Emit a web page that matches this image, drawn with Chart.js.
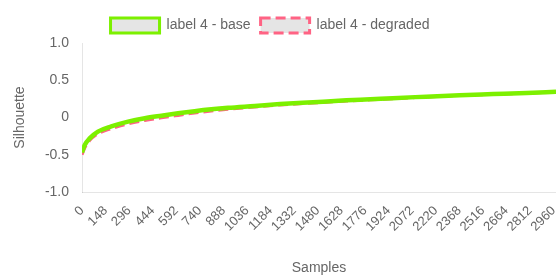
<!DOCTYPE html>
<html>
<head>
<meta charset="utf-8">
<script src="https://cdn.jsdelivr.net/npm/chart.js@4/dist/chart.umd.min.js"></script>
<style>
  html, body { margin: 0; padding: 0; background: #fff; }
  #wrap { width: 556px; height: 280px; }
</style>
</head>
<body>
<div id="wrap"><canvas id="chart"></canvas></div>
<script>
/* sample positions */
const samples = [0, 17, 48, 100, 184, 289, 394, 498, 603, 707, 812, 917, 1084, 1243, 1450, 1660, 1810, 1950, 2160, 2370, 2580, 2790, 2975];
const baseValues = [-0.47, -0.37, -0.28, -0.19, -0.12, -0.056, -0.01, 0.024, 0.056, 0.085, 0.11, 0.13, 0.155, 0.18, 0.205, 0.23, 0.245, 0.26, 0.28, 0.30, 0.315, 0.33, 0.345];
const degradedValues = [-0.50, -0.41, -0.31, -0.22, -0.15, -0.085, -0.04, -0.005, 0.028, 0.06, 0.088, 0.11, 0.14, 0.168, 0.195, 0.22, 0.237, 0.253, 0.274, 0.295, 0.311, 0.327, 0.343];
const seriesNames = ["label 4 - base", "label 4 - degraded"];
const xTickLabels = [0, 148, 296, 444, 592, 740, 888, 1036, 1184, 1332, 1480, 1628, 1776, 1924, 2072, 2220, 2368, 2516, 2664, 2812, 2960];
const xMax = 2975;
const yTicks = [-1, -0.5, 0, 0.5, 1];

const toPoints = vals => samples.map((s, i) => ({x: s, y: vals[i]}));

/* nudge legend a bit left, like the original */
const legendShift = {
  id: "legendShift",
  afterLayout(chart) {
    chart.legend.left -= 8;
    chart.legend.right -= 8;
  }
};

const ctx = document.getElementById("chart");
new Chart(ctx, {
  type: "line",
  data: {
    datasets: [
      {
        label: seriesNames[0],
        data: toPoints(baseValues),
        borderColor: "#7cf000",
        backgroundColor: "rgba(0,0,0,0.1)",
        borderWidth: 4.5,
        pointRadius: 0,
        fill: false,
        cubicInterpolationMode: "monotone"
      },
      {
        label: seriesNames[1],
        data: toPoints(degradedValues),
        borderColor: "rgb(255,99,132)",
        backgroundColor: "rgba(0,0,0,0.1)",
        borderWidth: 3,
        borderDash: [10, 5],
        pointRadius: 0,
        fill: false,
        cubicInterpolationMode: "monotone"
      }
    ]
  },
  plugins: [legendShift],
  options: {
    responsive: true,
    maintainAspectRatio: false,
    animation: false,
    layout: { padding: { top: 8, left: 0, right: 0, bottom: 0 } },
    plugins: {
      legend: {
        labels: {
          color: "#666",
          font: { size: 14 },
          boxWidth: 49,
          boxHeight: 15,
          generateLabels: chart => {
            const items = Chart.defaults.plugins.legend.labels.generateLabels(chart);
            items.forEach(it => { it.lineWidth = 3; });
            return items;
          }
        }
      },
      tooltip: { enabled: false }
    },
    scales: {
      x: {
        type: "linear",
        min: 0,
        max: xMax,
        grid: { display: false },
        border: { color: "rgba(0,0,0,0.1)" },
        title: { display: true, text: "Samples", color: "#666", font: { size: 14 }, padding: { top: 4, bottom: 3 } },
        ticks: {
          autoSkip: false,
          minRotation: 45,
          maxRotation: 45,
          color: "#666",
          font: { size: 13 },
          callback: v => String(v)
        },
        afterBuildTicks: s => { s.ticks = xTickLabels.map(v => ({value: v})); },
        afterFit: s => { s.height = 88; s.paddingRight = 0; s.paddingLeft = 0; }
      },
      y: {
        min: yTicks[0],
        max: yTicks[yTicks.length - 1],
        grid: { display: false },
        border: { color: "rgba(0,0,0,0.1)" },
        title: { display: true, text: "Silhouette", color: "#666", font: { size: 14 }, padding: { top: 12, bottom: 4 } },
        ticks: { stepSize: 0.5, padding: 5, color: "#666", font: { size: 14 } },
        afterFit: s => { s.width = 82; }
      }
    }
  }
});
</script>
</body>
</html>
